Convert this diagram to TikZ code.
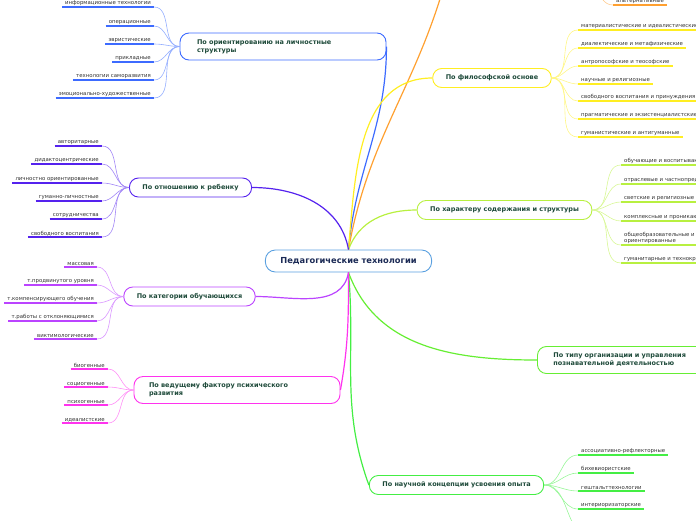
\documentclass[tikz,border=0pt]{standalone}
\usepackage{fontspec}
\setmainfont{DejaVu Sans}
\usepackage{tikz}
\definecolor{topicblue}{HTML}{5AA0E0}
\definecolor{navytext}{HTML}{1B2A55}
\definecolor{greentext}{HTML}{1E4A3A}
\definecolor{leaftext}{HTML}{333333}
\definecolor{oriblue}{HTML}{3D6BFF}
\definecolor{orange}{HTML}{FFA030}
\definecolor{philyellow}{HTML}{FFEE22}
\definecolor{lime}{HTML}{B8F040}
\definecolor{orggreen}{HTML}{66EE33}
\definecolor{conceptgreen}{HTML}{44EE44}
\definecolor{violet}{HTML}{5522EE}
\definecolor{catpurple}{HTML}{BB44FF}
\definecolor{magenta}{HTML}{FF33EE}
\tikzset{
topic/.style={draw=topicblue, fill=white, rounded corners=10pt, line width=0.9pt, minimum height=22pt, inner xsep=15pt, font=\fontsize{8.3}{10}\selectfont\bfseries, text=navytext},
branch/.style={draw=#1, fill=white, rounded corners=9pt, line width=0.9pt, minimum height=19pt, inner xsep=13pt, font=\fontsize{6.5}{8}\selectfont\bfseries, text=greentext},
leaf/.style={inner xsep=3pt, inner ysep=1pt, font=\fontsize{5.4}{6.6}\selectfont, text=leaftext},
uline/.style={draw=#1, line width=1.6pt},
twig/.style={draw=#1!55!white, line width=0.6pt},
stem/.style={draw=#1, line width=1.2pt}
}
\begin{document}
\begin{tikzpicture}[x=1pt,y=1pt]
\useasboundingbox (0,0) rectangle (696,-520);

\node[topic] (c) at (348.5,-261) {Педагогические технологии};

% branches
\node[branch=oriblue, text width=172pt, inner xsep=17pt, minimum height=27pt, align=left] (ori) at (283,-46.5) {По ориентированию на личностные\\структуры};
\node[branch=philyellow] (phil) at (492,-78) {По философской основе};
\node[branch=lime] (struct) at (504.5,-210) {По характеру содержания и структуры};
\node[branch=orggreen, text width=170pt, inner xsep=16pt, minimum height=27pt, align=left, anchor=west] (org) at (537,-360) {По типу организации и управления\\познавательной деятельностью};
\node[branch=conceptgreen] (concept) at (456.5,-485) {По научной концепции усвоения опыта};
\node[branch=violet] (child) at (190.5,-187.5) {По отношению к ребенку};
\node[branch=catpurple] (cat) at (189.5,-296.5) {По категории обучающихся};
\node[branch=magenta, text width=176pt, inner xsep=15pt, minimum height=27pt, align=left] (factor) at (237,-390) {По ведущему фактору психического\\развития};

\coordinate (oa) at (447,25);
\coordinate (ob) at (596,12);
\coordinate (cz) at (590,-535);

% stems from the centre
\draw[stem=oriblue] (c.north) to[out=85,in=-90] (ori.east);
\draw[stem=orange] (c.north) to[out=80,in=-105] (oa);
\draw[stem=philyellow] (c.north) to[out=85,in=180] (phil.west);
\draw[stem=lime] (c.north) to[out=70,in=180] (struct.west);
\draw[stem=orggreen] (c.south) to[out=-70,in=180] (org.west);
\draw[stem=conceptgreen] (c.south) to[out=-85,in=110] (concept.west);
\draw[stem=violet] (c.north) to[out=100,in=0] (child.east);
\draw[stem=catpurple] (c.south) to[out=-100,in=0] (cat.east);
\draw[stem=magenta] (c.south) to[out=-90,in=80] (factor.east);

% leaves, left side
\foreach \y/\t [count=\i] in {-7/информационные технологии, -26/операционные, -44/эвристические, -62/прикладные, -80/технологии саморазвития, -98/эмоционально-художественные}{
  \node[leaf, anchor=south east] (o\i) at (154,\y) {\t};
  \draw[uline=oriblue] (o\i.south west) -- (o\i.south east);
  \draw[twig=oriblue] (ori.west) to[out=180,in=0] (o\i.south east);
}
\foreach \y/\t [count=\i] in {-146/авторитарные, -164/дидактоцентрические, -183/личностно ориентированные, -201/гуманно-личностные, -219/сотрудничества, -237/свободного воспитания}{
  \node[leaf, anchor=south east] (r\i) at (102,\y) {\t};
  \draw[uline=violet] (r\i.south west) -- (r\i.south east);
  \draw[twig=violet] (child.west) to[out=180,in=0] (r\i.south east);
}
\foreach \y/\t [count=\i] in {-267/массовая, -285/т.продвинутого уровня, -303/т.компенсирующего обучения, -321/т.работы с отклоняющимися, -339/виктимологические}{
  \node[leaf, anchor=south east] (k\i) at (97,\y) {\t};
  \draw[uline=catpurple] (k\i.south west) -- (k\i.south east);
  \draw[twig=catpurple] (cat.west) to[out=180,in=0] (k\i.south east);
}
\foreach \y/\t [count=\i] in {-369/биогенные, -387/социогенные, -405/психогенные, -423/идеалистские}{
  \node[leaf, anchor=south east] (f\i) at (108,\y) {\t};
  \draw[uline=magenta] (f\i.south west) -- (f\i.south east);
  \draw[twig=magenta] (factor.west) to[out=180,in=0] (f\i.south east);
}

% leaves, right side
\node[leaf, anchor=south west] (a1) at (613,-5) {альтернативные};
\draw[uline=orange] (a1.south west) -- (a1.south east);
\draw[twig=orange] (ob) to[out=-60,in=180] (a1.south west);

\foreach \y/\t [count=\i] in {-30/материалистические и идеалистические, -48/диалектические и метафизические, -66/антропософские и теософские, -84/научные и религиозные, -101/свободного воспитания и принуждения, -119/прагматические и экзистенциалистские, -137/гуманистические и антигуманные}{
  \node[leaf, anchor=south west] (p\i) at (578,\y) {\t};
  \draw[uline=philyellow] (p\i.south west) -- (p\i.south east);
  \draw[twig=philyellow] (phil.east) to[out=0,in=180] (p\i.south west);
}
\foreach \y/\t [count=\i] in {-165/обучающие и воспитывающие, -184/отраслевые и частнопредметные, -202/светские и религиозные, -221/комплексные и проникающие, -245/{общеобразовательные и профессионально-\\ориентированные}, -263/гуманитарные и технократические}{
  \node[leaf, anchor=south west, align=left] (s\i) at (621,\y) {\t};
  \draw[uline=lime] (s\i.south west) -- (s\i.south east);
  \draw[twig=lime] (struct.east) to[out=0,in=180] (s\i.south west);
}
\foreach \y/\t [count=\i] in {-455/ассоциативно-рефлекторные, -473/бихевиористские, -491/гештальттехнологии, -509/интериоризаторские}{
  \node[leaf, anchor=south west] (n\i) at (578,\y) {\t};
  \draw[uline=conceptgreen] (n\i.south west) -- (n\i.south east);
  \draw[twig=conceptgreen] (concept.east) to[out=0,in=180] (n\i.south west);
}
\draw[twig=conceptgreen] (concept.east) to[out=0,in=180] (cz);
\end{tikzpicture}
\end{document}
